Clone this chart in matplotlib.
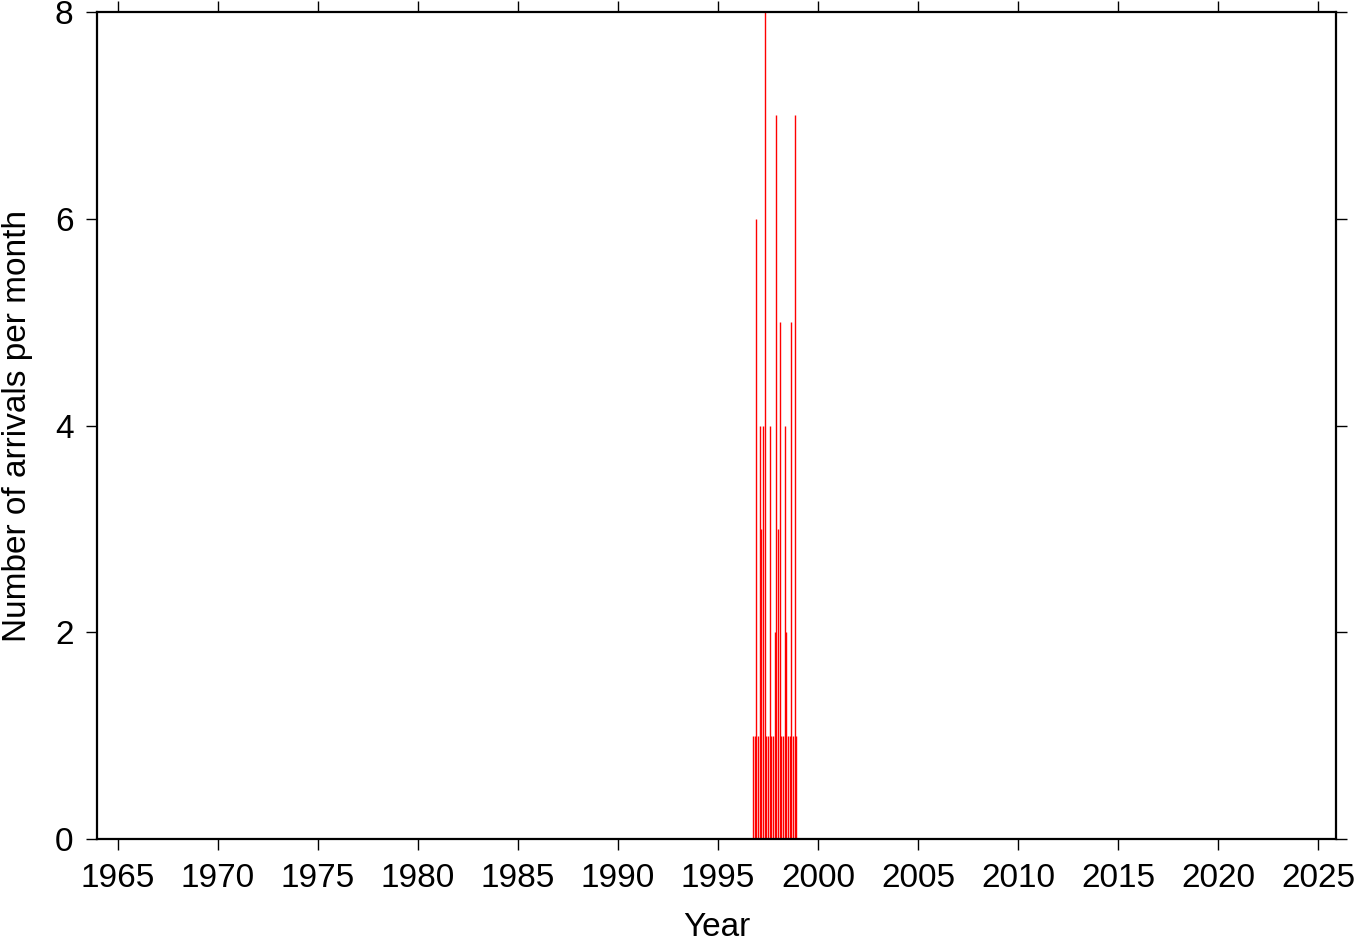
import numpy as np
import matplotlib
matplotlib.use("Agg")
import matplotlib.pyplot as plt

plt.rcParams['font.family'] = ['Liberation Sans', 'DejaVu Sans']

# monthly arrival counts, Oct 1996 .. Dec 1998
start_year = 1996
start_month = 10
counts = [1, 1, 6,                                  # 1996 Oct-Dec
          1, 4, 3, 4, 8, 1, 1, 4, 1, 1, 2, 7,       # 1997
          3, 5, 1, 1, 4, 2, 1, 1, 5, 1, 7, 1]       # 1998

year_ticks = list(range(1965, 2030, 5))
count_ticks = [0, 2, 4, 6, 8]

months = np.arange(len(counts)) + (start_month - 1)
x = start_year + months / 12.0

fig = plt.figure(figsize=(13.63, 9.42), dpi=100)
ax = fig.add_axes([0.0712, 0.1093, 0.9090, 0.8780])

ax.vlines(x, 0, counts, color='red', lw=1.0)

ax.set_xlim(1963.95, 2025.9)
ax.set_ylim(0, 8)
ax.set_xticks(year_ticks)
ax.set_yticks(count_ticks)

ax.tick_params(axis='both', direction='out', length=8, width=1.0,
               labelsize=24, top=True, right=True)
ax.tick_params(axis='x', pad=9)
ax.tick_params(axis='y', pad=9)
for s in ax.spines.values():
    s.set_linewidth(1.6)

ax.set_xlabel('Year', fontsize=24, labelpad=13)
ax.set_ylabel('Number of arrivals per month', fontsize=24, labelpad=16)

fig.savefig('out.png', dpi=100)
